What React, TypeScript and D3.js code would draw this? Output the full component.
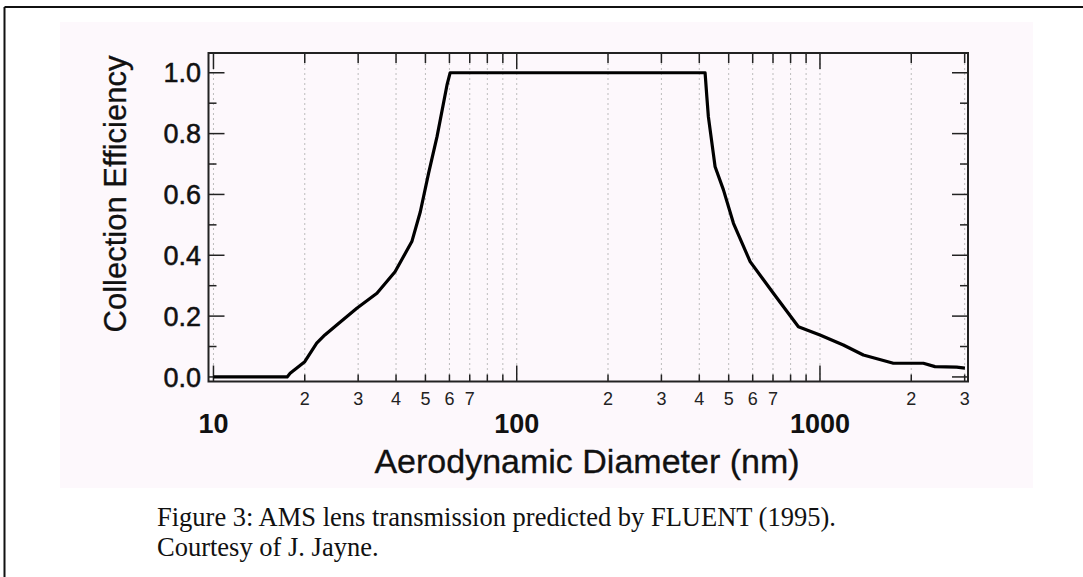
import React from "react";
import * as d3 from "d3";

const diameters = [10, 17.5, 17.9, 20.0, 21.9, 23.3, 25.5, 29.7, 34.6, 39.7, 45.1, 48.1, 51.2, 54.6, 58.9, 60.3, 418, 423.6, 428.6, 444.9, 451, 480.5, 518.5, 588.5, 702, 849, 1000, 1194, 1390, 1746, 2193, 2395, 2824, 3006];
const efficiency = [0, 0, 0.012, 0.05, 0.111, 0.138, 0.171, 0.226, 0.275, 0.346, 0.445, 0.543, 0.669, 0.79, 0.96, 1.0, 1.0, 0.921, 0.855, 0.735, 0.691, 0.615, 0.505, 0.379, 0.275, 0.165, 0.138, 0.105, 0.072, 0.045, 0.045, 0.034, 0.032, 0.029];

const majorXTicks = [10, 100, 1000];
const majorXLabels = ["10", "100", "1000"];
const minorXTicks = [20, 30, 40, 50, 60, 70, 80, 90, 200, 300, 400, 500, 600, 700, 800, 900, 2000, 3000];
const labeledMinorX = [20, 30, 40, 50, 60, 70, 200, 300, 400, 500, 600, 700, 2000, 3000];
const minorXLabels = ["2", "3", "4", "5", "6", "7", "2", "3", "4", "5", "6", "7", "2", "3"];
const yMajorTicks = [0, 0.2, 0.4, 0.6, 0.8, 1.0];
const yMajorLabels = ["0.0", "0.2", "0.4", "0.6", "0.8", "1.0"];
const yMinorTicks = [0.1, 0.3, 0.5, 0.7, 0.9];

const xTitle = "Aerodynamic Diameter (nm)";
const yTitle = "Collection Efficiency";
const captionLines = ["Figure 3: AMS lens transmission predicted by FLUENT (1995).", "Courtesy of J. Jayne."];

const W = 1083, H = 577;
const L = 208.5, R = 968, T = 53, B = 381.5;

export default function App() {
  const x = d3.scaleLog().domain([9.63, 3077]).range([L, R]);
  const y = d3.scaleLinear().domain([-0.015, 1.065]).range([B, T]);
  const pts = diameters.map((d, i) => [d, efficiency[i]] as [number, number]);
  const line = d3.line<[number, number]>().x(d => x(d[0])).y(d => y(d[1]));
  const sans = "'Liberation Sans', Arial, Helvetica, sans-serif";
  const allX = [...majorXTicks, ...minorXTicks];
  return (
    <svg width={W} height={H} style={{ position: "absolute", left: 0, top: 0 }}>
      <rect x={0} y={0} width={W} height={H} fill="#ffffff" />
      <line x1={4.5} y1={7} x2={W} y2={7} stroke="#111" strokeWidth={2} />
      <line x1={4.5} y1={7} x2={4.5} y2={H} stroke="#111" strokeWidth={2} />
      <rect x={60} y={22} width={973} height={466} fill="#fdf8fc" />
      {allX.map((v, i) => (
        <line key={"g" + i} x1={x(v)} x2={x(v)} y1={T} y2={B} stroke="#bdbdbd" strokeWidth={1} strokeDasharray="2,3" />
      ))}
      {minorXTicks.map((v, i) => (
        <g key={"mx" + i}>
          <line x1={x(v)} x2={x(v)} y1={T} y2={T + 10} stroke="#222" strokeWidth={1.5} />
          <line x1={x(v)} x2={x(v)} y1={B} y2={B - 7} stroke="#222" strokeWidth={1.5} />
        </g>
      ))}
      {majorXTicks.map((v, i) => (
        <g key={"Mx" + i}>
          <line x1={x(v)} x2={x(v)} y1={T} y2={T + 16} stroke="#222" strokeWidth={1.5} />
          <line x1={x(v)} x2={x(v)} y1={B} y2={B - 16} stroke="#222" strokeWidth={1.5} />
        </g>
      ))}
      {yMajorTicks.map((v, i) => (
        <g key={"My" + i}>
          <line x1={L} x2={L + 16} y1={y(v)} y2={y(v)} stroke="#222" strokeWidth={1.5} />
          <line x1={R} x2={R - 16} y1={y(v)} y2={y(v)} stroke="#222" strokeWidth={1.5} />
        </g>
      ))}
      {yMinorTicks.map((v, i) => (
        <g key={"my" + i}>
          <line x1={L} x2={L + 8} y1={y(v)} y2={y(v)} stroke="#222" strokeWidth={1.5} />
          <line x1={R} x2={R - 8} y1={y(v)} y2={y(v)} stroke="#222" strokeWidth={1.5} />
        </g>
      ))}
      <rect x={L} y={T} width={R - L} height={B - T} fill="none" stroke="#222" strokeWidth={2} />
      <path d={line(pts) || ""} fill="none" stroke="#000" strokeWidth={3.2} strokeLinejoin="round" />
      {yMajorTicks.map((v, i) => (
        <text key={"yl" + i} x={201} y={y(v)} dy="0.36em" textAnchor="end" fontFamily={sans} fontSize={27} fill="#111" stroke="#111" strokeWidth={0.5}>{yMajorLabels[i]}</text>
      ))}
      {labeledMinorX.map((v, i) => (
        <text key={"xl" + i} x={x(v)} y={405} textAnchor="middle" fontFamily={sans} fontSize={18} fill="#222">{minorXLabels[i]}</text>
      ))}
      {majorXTicks.map((v, i) => (
        <text key={"xL" + i} x={x(v)} y={433} textAnchor="middle" fontFamily={sans} fontSize={27} fontWeight="bold" fill="#111">{majorXLabels[i]}</text>
      ))}
      <text x={587} y={473} textAnchor="middle" fontFamily={sans} fontSize={34} fill="#111" stroke="#111" strokeWidth={0.3}>{xTitle}</text>
      <text transform="translate(126,194) rotate(-90)" textAnchor="middle" fontFamily={sans} fontSize={31} fill="#111" stroke="#111" strokeWidth={0.3}>{yTitle}</text>
      {captionLines.map((s, i) => (
        <text key={"c" + i} x={157} y={526 + i * 30} fontFamily="'Liberation Serif', 'Times New Roman', serif" fontSize={26.5} fill="#111">{s}</text>
      ))}
    </svg>
  );
}
